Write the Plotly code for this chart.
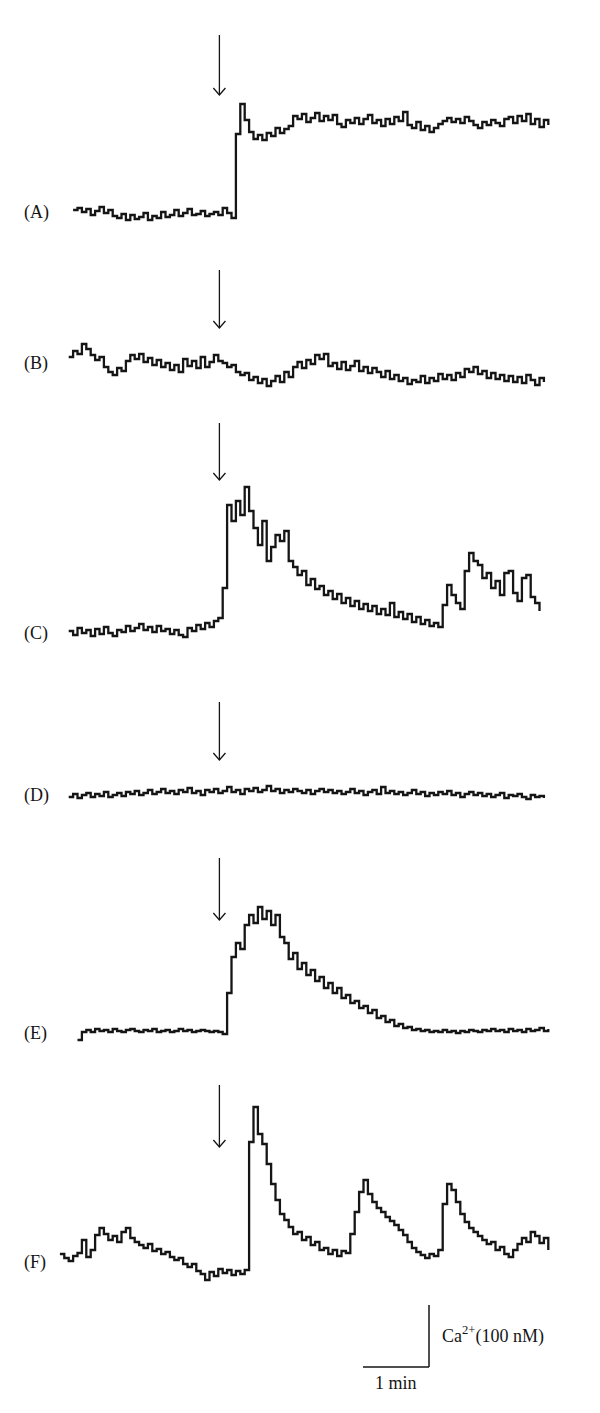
import plotly.graph_objects as go

# ---------------- data ----------------
# Time axis: seconds, sampled every DT seconds, start time per panel
DT = 4.0
PANELS = ["A", "B", "C", "D", "E", "F"]
LABELS = ["(A)", "(B)", "(C)", "(D)", "(E)", "(F)"]
T_START = {"A": 1, "B": -3, "C": -3, "D": -3, "E": 5, "F": -11}
ARROW_TIME = 134          # s, time of stimulus (arrows)
SCALE_TIME = 60           # s  -> "1 min"
SCALE_CA = 62             # trace units equal to 100 nM Ca2+
SCALE_TIME_LABEL = "1 min"
SCALE_CA_LABEL = "Ca<sup>2+</sup>(100 nM)"

# Ca2+ signal of each trace (trace units, relative to the panel level)
trace_A = [2, 4, 0, 3, -3, 1, 5, -1, 2, -4, -6, -2, -8, -3, -7, -5, -1, -8, -4, -6,
           0, -5, -3, 2, -4, -1, 3, -3, -2, 1, -4, -2, 0, -3, 4, -1, -6,
           78, 108, 92, 80, 73, 77, 72, 79, 76, 84, 79, 83, 86, 96,
           93, 98, 90, 94, 99, 91, 96, 92, 97, 88, 85, 92, 89, 94, 88, 93, 97, 89, 92, 86,
           93, 88, 95, 91, 100, 87, 84, 90, 82, 86, 80, 84, 88, 91, 94, 90, 93, 89, 95, 91,
           87, 84, 90, 87, 92, 89, 86, 93, 95, 89, 96, 91, 98, 88, 93, 85, 92, 87]

trace_B = [6, 12, 9, 19, 14, 8, 3, 6, -4, -9, -12, -5, -8, 2, 8, 4, 9, 1, 5, -2,
           3, -4, 0, -7, -2, -9, 4, -3, 2, -5, 6, -4, 1, 8, 2, 0, -4, -2, -9, -12,
           -10, -17, -14, -20, -16, -23, -18, -13, -19, -9, -14, -4, 1, -5, 3, -1, 8, 4, 9, -3,
           0, -6, 1, -7, -3, 2, -8, -4, -10, -5, -9, -14, -8, -16, -12, -18, -15, -21, -17, -19,
           -13, -20, -15, -18, -11, -16, -12, -17, -10, -14, -6, -9, -4, -11, -8, -15, -10, -16, -12, -18,
           -13, -19, -14, -20, -12, -17, -22, -15, -19]

trace_C = [2, -2, 5, 0, 3, -3, 4, -1, 6, 0, -3, 3, 1, 7, 2, 5, 9, 3, 6, 1,
           7, 2, 4, -1, 3, -2, -4, 5, 2, 8, 4, 10, 6, 12, 15, 45, 128, 112, 132, 118,
           146, 122, 105, 88, 112, 72, 86, 98, 92, 102, 72, 66, 58, 62, 48, 54, 44, 47, 38, 42,
           34, 39, 30, 35, 27, 32, 24, 29, 22, 27, 19, 24, 18, 30, 16, 21, 14, 19, 11, 16,
           9, 13, 7, 10, 6, 28, 48, 38, 30, 24, 62, 80, 72, 68, 55, 60, 45, 52, 38, 60,
           62, 40, 32, 55, 58, 36, 30, 22]

trace_D = [-2, 1, -3, 0, 2, -2, 1, -1, 3, -2, 0, 2, -1, 3, 1, 4, 0, 2, 5, 1,
           3, 6, 2, 4, 1, 5, 3, 7, 2, 4, 0, 5, 3, 6, 2, 4, 8, 3, 5, 1,
           6, 4, 7, 3, 5, 9, 4, 6, 2, 5, 3, 6, 4, 2, 5, 1, 4, 6, 3, 5,
           2, 4, 1, 3, 6, 2, 4, 0, 3, 5, 1, 8, 2, 4, 1, 3, 0, 2, 5, 1,
           3, -1, 2, 0, 3, 1, 4, 0, 2, -2, 1, 3, 0, 2, -1, 1, -2, 0, 2, -3,
           0, -1, 1, -2, -4, 0, -2, -1, -3]

trace_E = [-7, 1, 3, 1, 4, 2, 3, 1, 4, 2, 1, 3, 4, 2, 1, 3, 2, 4, 1, 2,
           3, 1, 2, 4, 2, 3, 1, 2, 3, 2, 1, 2, 1, -1, 40, 76, 90, 84, 108, 118,
           110, 126, 114, 122, 108, 118, 96, 90, 74, 80, 64, 70, 58, 63, 52, 56, 45, 50, 40, 45,
           35, 38, 30, 32, 25, 27, 20, 23, 15, 17, 11, 13, 7, 9, 5, 6, 3, 4, 2, 3,
           1, 2, 1, 3, 1, 2, 0, 2, 1, 3, 2, 1, 3, 2, 4, 2, 3, 1, 4, 2,
           3, 1, 4, 2, 3, 5, 2, 4]

trace_F = [8, 4, 1, 6, 9, 22, 5, 12, 27, 34, 28, 22, 26, 20, 30, 34, 24, 20, 17, 14,
           18, 11, 13, 8, 10, 5, 2, 4, -2, -5, -2, -9, -12, -18, -10, -14, -7, -11, -8, -13,
           -9, -12, -8, 120, 155, 128, 118, 98, 78, 62, 48, 42, 35, 28, 30, 22, 25, 17, 20, 12,
           14, 8, 12, 6, 11, 9, 28, 50, 70, 82, 68, 60, 54, 50, 45, 41, 37, 32, 27, 20,
           14, 10, 7, 4, 8, 6, 12, 58, 78, 72, 60, 48, 40, 34, 30, 26, 22, 18, 20, 12,
           15, 8, 5, 12, 18, 24, 20, 30, 26, 19, 24, 12]

TRACES = {"A": trace_A, "B": trace_B, "C": trace_C,
          "D": trace_D, "E": trace_E, "F": trace_F}

# ---------------- layout (positions / styles) ----------------
FIG_W, FIG_H = 600, 1413
X_ORIGIN_PX = 72            # pixel column of t = 0
PX_PER_S = 66 / 60          # 1 min = 66 px
LEVEL = {"A": 212, "B": 363, "C": 633, "D": 795, "E": 1033, "F": 1262}   # px from top
ARROW_TIP_ABOVE = {"A": 117, "B": 35, "C": 153, "D": 35, "E": 113, "F": 115}
ARROW_LEN = {"A": 60, "B": 58, "C": 57, "D": 58, "E": 62, "F": 62}
LABEL_X_PX = 22
SCALE_CORNER_PX = (429, 1367)
FONT = "Liberation Serif, Times New Roman, serif"
INK = "#151515"


def base(p):
    return FIG_H - LEVEL[p]


fig = go.Figure()
for p in PANELS:
    vals = TRACES[p]
    t = [T_START[p] + DT * i for i in range(len(vals))]
    y = [base(p) + v for v in vals]
    fig.add_trace(go.Scatter(x=t, y=y, mode="lines", line=dict(color=INK, width=2.3, shape="hv"),
                             hoverinfo="skip", showlegend=False))

shapes = []
head_dx = 5.5   # s
head_dy = 7     # units
for p in PANELS:
    tip = base(p) + ARROW_TIP_ABOVE[p]
    top = tip + ARROW_LEN[p]
    ln = dict(color=INK, width=1.3)
    shapes.append(dict(type="line", xref="x", yref="y", x0=ARROW_TIME, x1=ARROW_TIME,
                       y0=top, y1=tip, line=ln))
    shapes.append(dict(type="path", xref="x", yref="y",
                       path=f"M {ARROW_TIME - head_dx},{tip + head_dy} L {ARROW_TIME},{tip} "
                            f"L {ARROW_TIME + head_dx},{tip + head_dy}",
                       line=ln))

# scale bar
corner_t = (SCALE_CORNER_PX[0] - X_ORIGIN_PX) / PX_PER_S
corner_y = FIG_H - SCALE_CORNER_PX[1]
bar = dict(color=INK, width=1.5)
shapes.append(dict(type="line", xref="x", yref="y", x0=corner_t - SCALE_TIME, x1=corner_t,
                   y0=corner_y, y1=corner_y, line=bar))
shapes.append(dict(type="line", xref="x", yref="y", x0=corner_t, x1=corner_t,
                   y0=corner_y, y1=corner_y + SCALE_CA, line=bar))

annotations = []
for p, lab in zip(PANELS, LABELS):
    annotations.append(dict(text=lab, xref="paper", yref="y", x=LABEL_X_PX / FIG_W, y=base(p),
                            xanchor="left", yanchor="middle", showarrow=False,
                            font=dict(family=FONT, size=18, color=INK)))
annotations.append(dict(text=SCALE_CA_LABEL, xref="x", yref="y", x=corner_t + 10,
                        y=corner_y + SCALE_CA / 2 + 1, xanchor="left", yanchor="middle",
                        showarrow=False, font=dict(family=FONT, size=18, color=INK)))
annotations.append(dict(text=SCALE_TIME_LABEL, xref="x", yref="y", x=corner_t - SCALE_TIME / 2,
                        y=corner_y - 4, xanchor="center", yanchor="top",
                        showarrow=False, font=dict(family=FONT, size=18, color=INK)))

fig.update_layout(
    width=FIG_W, height=FIG_H,
    margin=dict(l=0, r=0, t=0, b=0),
    paper_bgcolor="white", plot_bgcolor="white",
    shapes=shapes, annotations=annotations,
    xaxis=dict(range=[(0 - X_ORIGIN_PX) / PX_PER_S, (FIG_W - X_ORIGIN_PX) / PX_PER_S],
               visible=False, fixedrange=True),
    yaxis=dict(range=[0, FIG_H], visible=False, fixedrange=True),
)
fig.write_html("out.html", config={"displayModeBar": False},
               post_script="document.body.style.margin='0';")
